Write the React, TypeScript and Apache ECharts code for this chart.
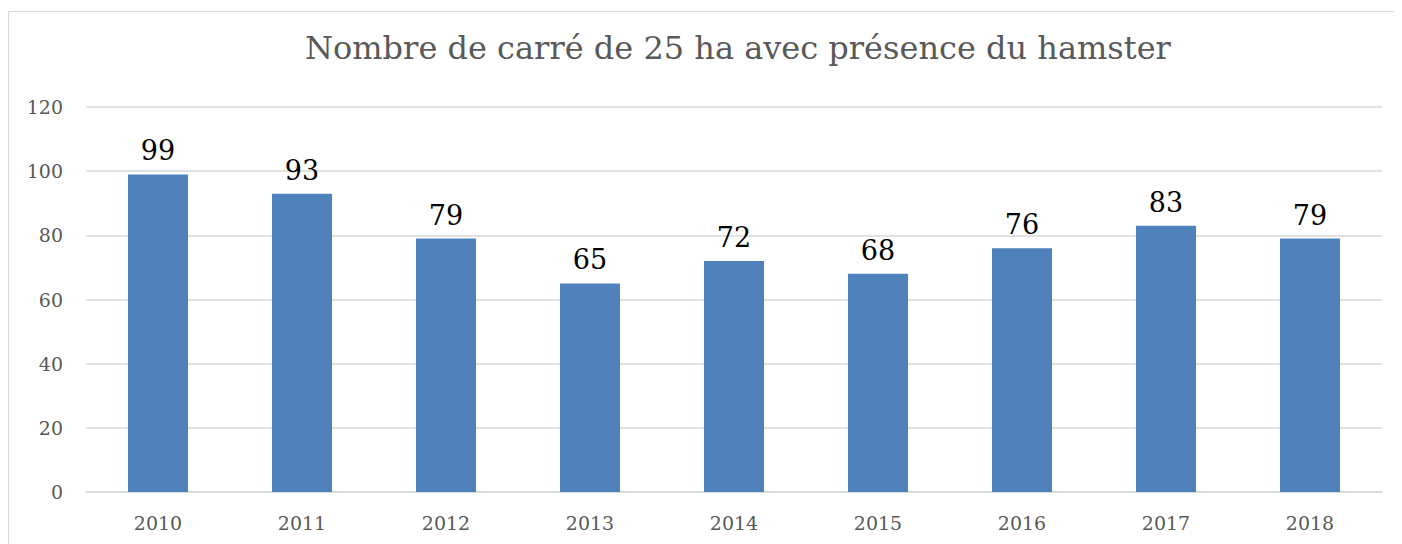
import React, { useEffect, useRef } from "react";
import * as echarts from "echarts";

const titleText = "Nombre de carré de 25 ha avec présence du hamster";
const years = ["2010", "2011", "2012", "2013", "2014", "2015", "2016", "2017", "2018"];
const squares = [99, 93, 79, 65, 72, 68, 76, 83, 79];
const yMin = 0;
const yMax = 120;
const yStep = 20;

const FONT = "'DejaVu Serif', Georgia, serif";

export default function App() {
  const ref = useRef<HTMLDivElement>(null);
  useEffect(() => {
    if (!ref.current) return;
    document.body.style.overflow = "hidden";
    const chart = echarts.init(ref.current, undefined, { renderer: "svg" });
    chart.setOption({
      animation: false,
      backgroundColor: "#ffffff",
      title: {
        text: titleText,
        left: 292,
        top: 19,
        textStyle: { fontFamily: FONT, fontSize: 32, fontWeight: "normal", color: "#595959" },
      },
      graphic: [
        {
          type: "line",
          shape: { x1: 0, y1: 3.5, x2: 1394, y2: 3.5 },
          style: { stroke: "#d9d9d9", lineWidth: 1 },
          silent: true,
        },
        {
          type: "line",
          shape: { x1: 0.5, y1: 3, x2: 0.5, y2: 536 },
          style: { stroke: "#d9d9d9", lineWidth: 1 },
          silent: true,
        },
      ],
      grid: { left: 78, right: 20, top: 99, bottom: 52, containLabel: false },
      xAxis: {
        type: "category",
        data: years,
        axisLine: { show: true, lineStyle: { color: "#d9d9d9", width: 1.5 } },
        axisTick: { show: false },
        axisLabel: { fontFamily: FONT, fontSize: 19, color: "#595959", margin: 21 },
      },
      yAxis: {
        type: "value",
        min: yMin,
        max: yMax,
        interval: yStep,
        axisLine: { show: false },
        axisTick: { show: false },
        splitLine: { lineStyle: { color: "#d9d9d9", width: 1.5 } },
        axisLabel: { fontFamily: FONT, fontSize: 19, color: "#595959", margin: 23 },
      },
      series: [
        {
          type: "bar",
          data: squares,
          barWidth: "41.7%",
          itemStyle: { color: "#4f81bd" },
          label: {
            show: true,
            position: "top",
            distance: 10,
            fontFamily: FONT,
            fontSize: 27,
            color: "#000000",
          },
        },
      ],
    });
    return () => chart.dispose();
  }, []);
  return <div ref={ref} style={{ width: 1394, height: 536 }} />;
}
